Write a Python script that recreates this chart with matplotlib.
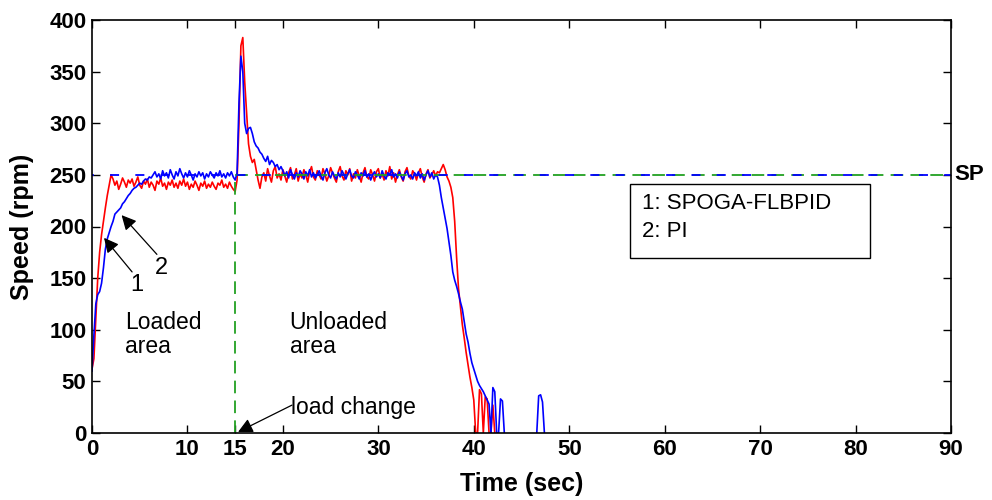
import numpy as np
import matplotlib
matplotlib.use("Agg")
import matplotlib.pyplot as plt
from matplotlib.patches import Rectangle

plt.rcParams['font.family'] = ['Liberation Sans', 'DejaVu Sans']

# sampling step of the recorded traces (s)
dt = 0.2

# 1: SPOGA-FLBPID (red)
red_v = [
    62, 72, 110, 150, 175, 192, 205, 218, 230, 240,
    250, 246, 240, 244, 236, 241, 247, 243, 238, 245,
    242, 246, 239, 243, 248, 240, 237, 244, 241, 246,
    238, 243, 240, 235, 244, 241, 247, 239, 242, 236,
    243, 240, 245, 238, 242, 237, 244, 240, 246, 239,
    243, 236, 241, 238, 244, 240, 235, 242, 239, 244,
    237, 241, 238, 243, 239, 236, 242, 240, 245, 238,
    241, 237, 243, 239, 236, 234, 245, 300, 375, 383,
    340, 310, 280, 268, 262, 265, 255, 245, 237, 248,
    252, 244, 256, 249, 243, 254, 258, 247, 251, 245,
    255, 249, 243, 252, 257, 246, 250, 256, 244, 251,
    247, 255, 250, 243, 253, 258, 248, 245, 254, 250,
    246, 256, 251, 244, 249, 257, 252, 247, 243, 253,
    258, 249, 245, 254, 250, 256, 244, 251, 247, 255,
    249, 243, 252, 257, 248, 246, 255, 250, 244, 253,
    256, 247, 251, 245, 254, 249, 258, 246, 252, 243,
    250, 255, 248, 244, 253, 257, 249, 246, 254, 251,
    245, 252, 256, 248, 243, 251, 255, 247, 250, 254,
    249, 253, 252, 256, 260, 255, 248, 244, 238, 228,
    205, 170, 140, 122, 105, 92, 78, 66, 54, 44,
    32, 0, 0, 42, 38, 0, 35, 33, 0, 0,
    27, 0,
]

# 2: PI (blue)
blue_v = [
    60, 95, 125, 134, 137, 145, 160, 178, 188, 194,
    200, 205, 212, 214, 216, 218, 222, 224, 227, 230,
    232, 235, 237, 238, 240, 242, 241, 244, 246, 245,
    248, 247, 250, 253, 248, 251, 246, 254, 249, 252,
    247, 255, 250, 246, 253, 249, 256, 251, 247, 252,
    248, 254, 250, 245, 251, 248, 253, 249, 252, 246,
    251, 248, 253, 250, 247, 252, 249, 254, 248, 251,
    247, 252, 249, 253, 248, 245, 252, 320, 365, 350,
    300, 290, 295, 296, 290, 282, 278, 276, 272, 270,
    266, 263, 268, 260, 264, 262, 258, 260, 255, 258,
    254, 249, 253, 247, 255, 250, 246, 252, 248, 254,
    251, 246, 253, 249, 255, 248, 252, 247, 250, 254,
    249, 245, 252, 256, 250, 247, 253, 249, 246, 252,
    248, 254, 250, 246, 251, 255, 249, 247, 253, 250,
    246, 252, 249, 254, 248, 251, 245, 250, 253, 248,
    251, 247, 254, 249, 246, 252, 250, 255, 248, 251,
    247, 253, 249, 245, 251, 254, 248, 250, 246, 252,
    249, 253, 247, 251, 245, 250, 254, 248, 252, 246,
    250, 248, 240, 228, 218, 208, 198, 185, 172, 156,
    148, 142, 135, 127, 120, 108, 96, 88, 77, 68,
    62, 56, 50, 46, 43, 40, 36, 32, 28, 0,
    44, 40, 0, 0, 33, 31, 0,
]

# late blue blip after the stop (t, value)
blip_t = [46.6, 46.8, 47.0, 47.2, 47.4]
blip_v = [0, 36, 37, 30, 0]

t_end = 90
setpoint = 250
t_load = 15
xticks = [0, 10, 15, 20, 30, 40, 50, 60, 70, 80, 90]
yticks = [0, 50, 100, 150, 200, 250, 300, 350, 400]

red_t = np.arange(len(red_v)) * dt
blue_t = np.arange(len(blue_v)) * dt

fig = plt.figure(figsize=(9.92, 5.0), dpi=100)
ax = fig.add_axes([92 / 992, 67 / 500, 859 / 992, 413 / 500])

ax.plot(red_t, red_v, color='#ff0000', lw=1.2, zorder=2)
ax.plot(blue_t, blue_v, color='#0000ff', lw=1.2, zorder=2.1)
ax.plot(blip_t, blip_v, color='#0000ff', lw=1.2, zorder=2.1)

green = '#22a022'
# load change marker (vertical) and setpoint after the load change
ax.plot([t_load, t_load, t_end], [0, setpoint, setpoint], color=green, lw=1.3,
        ls=(0, (7, 4)), zorder=3)
ax.plot([0, t_end], [setpoint, setpoint], color='#0000ff', lw=1.3,
        ls=(4, (5, 9)), zorder=3.1)

ax.set_xlim(0, 90)
ax.set_ylim(0, 400)
ax.set_xticks(xticks)
ax.set_yticks(yticks)
ax.tick_params(direction='in', length=6, width=1, top=True, right=True,
               labelsize=16, pad=4)
for lab in ax.get_xticklabels() + ax.get_yticklabels():
    lab.set_fontweight('bold')
for s in ax.spines.values():
    s.set_linewidth(1.2)
    s.set_zorder(5)

ax.set_xlabel('Time (sec)', fontsize=18, fontweight='bold', labelpad=9)
ax.set_ylabel('Speed (rpm)', fontsize=18, fontweight='bold', labelpad=11)

ax.text(1.004, setpoint, 'SP', transform=ax.get_yaxis_transform(),
        fontsize=16, fontweight='bold', va='center', ha='left', clip_on=False)

aprops = dict(arrowstyle='-|>', color='black', lw=0.9,
              mutation_scale=22, shrinkA=0, shrinkB=0)
ax.annotate('', xy=(1.26, 189), xytext=(4.2, 156), arrowprops=aprops)
ax.text(4.7, 143, '1', fontsize=17, ha='center', va='center')
ax.annotate('', xy=(3.1, 211), xytext=(6.8, 173), arrowprops=aprops)
ax.text(7.3, 160, '2', fontsize=17, ha='center', va='center')

ax.text(3.46, 95, 'Loaded\narea', fontsize=16.5, ha='left', va='center',
        linespacing=1.05)
ax.text(20.7, 95, 'Unloaded\narea', fontsize=16.5, ha='left', va='center',
        linespacing=1.05)
ax.annotate('', xy=(15.3, 1), xytext=(20.95, 27), arrowprops=aprops)
ax.text(20.85, 25, 'load change', fontsize=16.5, ha='left', va='center')

ax.add_patch(Rectangle((56.4, 169.5), 25.1, 71.5, fill=False,
                       edgecolor='black', lw=1, zorder=4))
ax.text(57.6, 222.7, '1: SPOGA-FLBPID', fontsize=16, ha='left', va='center')
ax.text(57.6, 195.6, '2: PI', fontsize=16, ha='left', va='center')

fig.savefig('out.png', dpi=100)
